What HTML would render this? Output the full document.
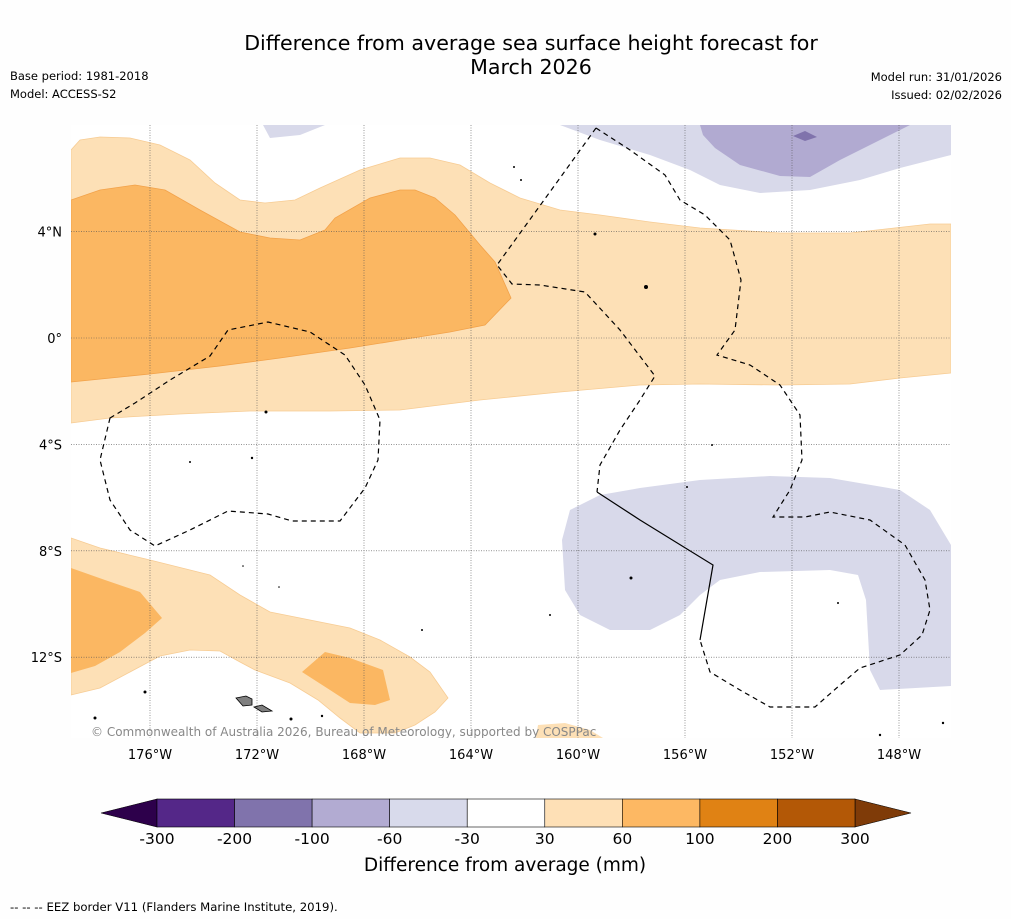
<!DOCTYPE html>
<html><head><meta charset="utf-8">
<style>
body{margin:0;background:#fefefe;font-family:"Liberation Sans","DejaVu Sans",sans-serif;}
svg{display:block}
</style></head>
<body>
<svg id="chart" width="1011" height="919" viewBox="0 0 1011 919" xmlns="http://www.w3.org/2000/svg">
<rect width="1011" height="919" fill="#fefefe"/>
<text x="531" y="50" font-size="20.6" text-anchor="middle" font-family="DejaVu Sans, sans-serif">Difference from average sea surface height forecast for</text>
<text x="531" y="74" font-size="20.6" text-anchor="middle" font-family="DejaVu Sans, sans-serif">March 2026</text>
<text x="10" y="80" font-size="11.5" font-family="DejaVu Sans, sans-serif">Base period: 1981-2018</text>
<text x="10" y="98" font-size="11.5" font-family="DejaVu Sans, sans-serif">Model: ACCESS-S2</text>
<text x="1002" y="81" font-size="11.5" text-anchor="end" font-family="DejaVu Sans, sans-serif">Model run: 31/01/2026</text>
<text x="1002" y="99" font-size="11.5" text-anchor="end" font-family="DejaVu Sans, sans-serif">Issued: 02/02/2026</text>

<defs><clipPath id="mapclip"><rect x="71" y="125" width="880" height="613"/></clipPath></defs>
<g clip-path="url(#mapclip)">
<rect x="71" y="125" width="880" height="613" fill="#ffffff"/>
<path fill="#fde0b6" stroke="#f7cc94" stroke-width="0.8" d="M71,150 L80,140 L100,137 L130,138 L160,145 L190,160 L215,183 L240,200 L265,203 L295,200 L320,188 L360,170 L400,158 L430,158 L460,165 L490,183 L520,198 L560,210 L600,215 L650,222 L700,228 L780,233 L850,233 L930,224 L951,224 L951,373 L900,378 L850,384 L780,385 L700,384 L640,385 L560,392 L480,400 L400,410 L330,411 L250,411 L180,414 L110,418 L71,423 Z"/>
<path fill="#fbb762" stroke="#f2a24a" stroke-width="0.8" d="M71,200 L100,190 L135,185 L165,190 L200,210 L240,232 L270,238 L300,240 L325,230 L335,218 L370,198 L400,190 L415,190 L435,198 L455,215 L480,245 L495,262 L511,298 L485,325 L450,332 L400,340 L350,348 L280,358 L220,366 L150,374 L71,382 Z"/>
<path fill="#d8d9ea" d="M560,125 L951,125 L951,155 L900,168 L860,180 L810,190 L760,193 L720,185 L690,170 L650,155 L600,140 Z"/>
<path fill="#d8d9ea" d="M263,125 L325,125 L300,135 L270,138 Z"/>
<path fill="#b1aad1" d="M700,125 L910,125 L880,140 L840,160 L810,177 L780,176 L740,165 L715,148 L703,135 Z"/>
<path fill="#8073ac" d="M793,136 L805,131 L817,137 L805,141 Z"/>
<path fill="#d8d9ea" d="M570,510 L600,495 L640,488 L700,480 L770,476 L830,478 L900,490 L930,510 L951,545 L951,686 L880,690 L870,670 L866,600 L858,575 L830,570 L760,572 L720,580 L700,595 L680,615 L650,630 L610,630 L580,615 L565,590 L562,540 Z"/>
<path fill="#fde0b6" stroke="#f7cc94" stroke-width="0.8" d="M71,538 L100,548 L150,560 L210,575 L240,595 L270,612 L300,618 L350,628 L380,640 L410,657 L430,672 L448,698 L435,712 L415,725 L395,733 L360,733 L340,718 L318,700 L290,683 L255,670 L240,662 L220,651 L190,650 L160,656 L130,672 L100,688 L71,695 Z"/>
<path fill="#fbb762" d="M71,568 L105,580 L140,592 L162,618 L145,633 L120,652 L95,666 L71,673 Z"/>
<path fill="#fbb762" d="M302,672 L325,652 L350,658 L383,670 L390,700 L375,705 L350,703 L330,690 Z"/>
<path fill="#fde0b6" d="M536,738 L538,725 L565,723 L590,730 L603,738 Z"/>
<path fill="#808080" stroke="#000" stroke-width="0.8" d="M236,698 L246,696 L252,699 L252,705 L243,706 Z"/>
<path fill="#808080" stroke="#000" stroke-width="0.8" d="M254,707 L262,705 L272,711 L262,712 Z"/>
<g fill="#000">
<circle cx="145" cy="692" r="1.5"/><circle cx="95" cy="718" r="1.5"/><circle cx="291" cy="719" r="1.5"/><circle cx="322" cy="716" r="1.2"/>
<circle cx="266" cy="412" r="1.5"/><circle cx="252" cy="458" r="1.2"/><circle cx="190" cy="462" r="1"/><circle cx="595" cy="234" r="1.5"/>
<circle cx="646" cy="287" r="2"/><circle cx="631" cy="578" r="1.5"/><circle cx="550" cy="615" r="1"/><circle cx="712" cy="445" r="1"/>
<circle cx="687" cy="487" r="1"/><circle cx="838" cy="603" r="1"/><circle cx="880" cy="735" r="1.2"/><circle cx="943" cy="723" r="1.2"/>
<circle cx="514" cy="167" r="1"/><circle cx="521" cy="180" r="1"/><circle cx="422" cy="630" r="1"/><circle cx="243" cy="566" r="0.8"/><circle cx="279" cy="587" r="0.8"/>
</g>
<g id="grid" stroke="#555" stroke-width="0.6" stroke-dasharray="1,1.5"></g>
<g fill="none" stroke="#000" stroke-width="1.2">
<path stroke-dasharray="5,4" d="M110,418 L100,460 L110,500 L130,530 L155,546 L190,530 L228,511 L268,514 L292,521 L340,521 L365,488 L378,460 L380,420 L365,385 L345,355 L310,332 L268,322 L228,330 L210,356 L170,380 L135,403 Z"/>
<path stroke-dasharray="5,4" d="M596,128 L630,150 L665,175 L680,200 L705,215 L730,240 L741,280 L735,330 L717,355 L750,365 L780,385 L800,415 L802,460 L790,490 L773,517 L805,517 L830,512 L870,520 L905,545 L925,580 L930,610 L922,635 L900,655 L860,668 L840,685 L815,707 L770,707 L740,690 L710,672 L700,640"/>
<path stroke-dasharray="5,4" d="M596,128 L560,178 L497,265 L512,284 L540,285 L585,292 L620,330 L655,376 L640,400 L620,430 L600,465 L597,492"/>
<path d="M597,492 L640,520 L713,565 L700,640"/>
</g>
<text x="91" y="736" font-size="12" fill="#888" font-family="DejaVu Sans, sans-serif">© Commonwealth of Australia 2026, Bureau of Meteorology, supported by COSPPac</text>
</g>
<g id="axes" font-family="DejaVu Sans, sans-serif" font-size="13"></g>
<g id="colorbar"></g>
<text x="505" y="871" font-size="18.5" text-anchor="middle" font-family="DejaVu Sans, sans-serif">Difference from average (mm)</text>
<text x="10" y="911" font-size="11.7" font-family="DejaVu Sans, sans-serif">--  --  -- EEZ border V11 (Flanders Marine Institute, 2019).</text>
</svg>
<script>
const lonTicks=[-176,-172,-168,-164,-160,-156,-152,-148];
const latTicks=[4,0,-4,-8,-12];
const cbLevels=[-300,-200,-100,-60,-30,30,60,100,200,300];
const cbColors=["#542788","#8073ac","#b2abd2","#d8daeb","#ffffff","#fee0b6","#fdb863","#e08214","#b35806"];
const cbExtend=["#2d004b","#7f3b08"];
const NS="http://www.w3.org/2000/svg";
const x=lon=>150+(lon+176)*26.75;
const y=lat=>338-lat*26.6;
function mk(tag,attrs,parent){const e=document.createElementNS(NS,tag);for(const k in attrs)e.setAttribute(k,attrs[k]);parent.appendChild(e);return e;}
const grid=document.getElementById('grid'),axes=document.getElementById('axes'),cb=document.getElementById('colorbar');
lonTicks.forEach(l=>{
 const ln=mk('line',{x1:x(l),x2:x(l),y1:125,y2:738},grid);
 
 
 const t=mk('text',{x:x(l),y:759,'text-anchor':'middle'},axes);
 t.textContent=Math.abs(l)+'°W';
 
 
});
latTicks.forEach(l=>{
 const ln=mk('line',{x1:71,x2:951,y1:y(l),y2:y(l)},grid);
 
 
 const t=mk('text',{x:62,y:y(l)+5,'text-anchor':'end'},axes);
 t.textContent=l===0?'0°':Math.abs(l)+'°'+(l>0?'N':'S');
 
 
});
const cx0=157,cx1=855,cy=799,ch=28,w=(cx1-cx0)/cbColors.length;
const l0=mk('path',{d:`M${cx0},${cy} L101,${cy+ch/2} L${cx0},${cy+ch} Z`,fill:cbExtend[0],stroke:'#000','stroke-width':0.6},cb);


const r0=mk('path',{d:`M${cx1},${cy} L911,${cy+ch/2} L${cx1},${cy+ch} Z`,fill:cbExtend[1],stroke:'#000','stroke-width':0.6},cb);


cbColors.forEach((c,i)=>{
 const r=mk('rect',{x:cx0+i*w,y:cy,width:w,height:ch,fill:c,stroke:'#000','stroke-width':0.6},cb);
 
 
});
cbLevels.forEach((v,i)=>{
 const t=mk('text',{x:cx0+i*w,y:844,'text-anchor':'middle','font-size':15.5,'font-family':'DejaVu Sans, sans-serif'},cb);
 t.textContent=v;
 
 
});
</script>
</body></html>
